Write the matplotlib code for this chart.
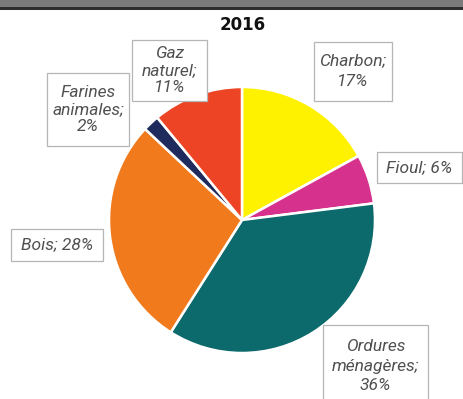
import matplotlib
matplotlib.use("Agg")
import matplotlib.pyplot as plt
from matplotlib.patches import Rectangle

# Energy sources, 2016 (percent)
categories = ["Charbon", "Fioul", "Ordures\nménagères", "Bois", "Farines\nanimales", "Gaz\nnaturel"]
values = [17, 6, 36, 28, 2, 11]
colors = ["#FFF200", "#D6318C", "#0C6A6D", "#F07A1C", "#1E2B5C", "#EE4426"]
label_texts = ["Charbon;\n17%", "Fioul; 6%", "Ordures\nménagères;\n36%", "Bois; 28%",
               "Farines\nanimales;\n2%", "Gaz\nnaturel;\n11%"]

W, H = 464, 399
fig = plt.figure(figsize=(W / 100, H / 100), dpi=100)
fig.patch.set_facecolor("white")

def fx(px):
    return px / W

def fy(py):
    return 1 - py / H

# header band
fig.patches.append(Rectangle((0, fy(7)), 1, 7 / H, transform=fig.transFigure,
                             facecolor="#7b7b7b", edgecolor="none"))
fig.patches.append(Rectangle((0, fy(10)), 1, 3 / H, transform=fig.transFigure,
                             facecolor="#2e2e2e", edgecolor="none"))

fig.text(fx(243), fy(25), "2016", ha="center", va="center",
         fontsize=12, fontweight="bold", color="#111111")

# pie
cx, cy, r = 242, 220, 133
ax = fig.add_axes([fx(cx - r), fy(cy + r), 2 * r / W, 2 * r / H])
ax.pie(values, colors=colors, startangle=90, counterclock=False,
       wedgeprops=dict(edgecolor="white", linewidth=1.8))
ax.set_xlim(-1.0, 1.0)
ax.set_ylim(-1.0, 1.0)
ax.set_aspect("auto")
ax.axis("off")

# label boxes: (left, top, right, bottom) in pixels, drawn in this order
boxes = {
    4: (47, 73, 129, 146),
    5: (132, 40, 207, 101),
    0: (314, 42, 392, 101),
    1: (377, 152, 462, 183),
    3: (11, 229, 103, 261),
    2: (323, 325, 428, 405),
}
spacing = {0: 1.5, 1: 1.2, 2: 1.4, 3: 1.2, 4: 1.15, 5: 1.15}

fam = ["Roboto", "DejaVu Sans"]
for i, (l, t, rr, b) in boxes.items():
    fig.patches.append(Rectangle((fx(l), fy(b)), (rr - l) / W, (b - t) / H,
                                 transform=fig.transFigure, facecolor="white",
                                 edgecolor="#b5b5b5", linewidth=0.9, zorder=5))
    fig.text(fx((l + rr) / 2), fy((t + min(b, 399)) / 2 + (4 if i == 2 else 0)),
             label_texts[i], ha="center", va="center", fontsize=12.5,
             style="italic", family=fam, color="#505050",
             linespacing=spacing[i], zorder=6)

fig.savefig("out.png", dpi=100)
